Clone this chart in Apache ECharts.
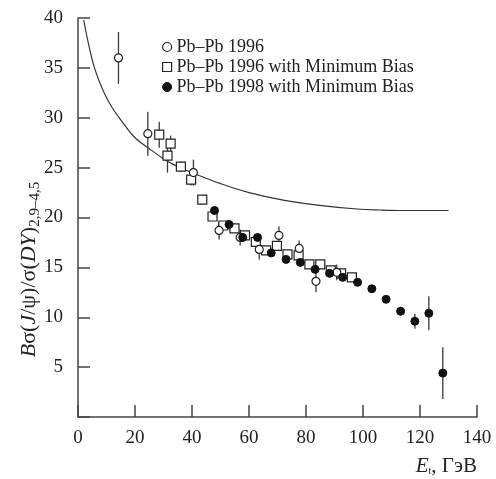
<!DOCTYPE html>
<html>
<head>
<meta charset="utf-8">
<script src="https://cdn.jsdelivr.net/npm/echarts@6/dist/echarts.min.js"></script>
<style>html,body{margin:0;padding:0;background:#fff;}#c{width:496px;height:479px;}</style>
</head>
<body>
<div id="c"></div>
<script>
// Pb-Pb 1996 (open circles)
var open96X   = [14.2, 24.5, 40.5, 49.5, 56.9, 63.6, 70.5, 77.6, 83.5, 90.8];
var open96Y   = [36.0, 28.4, 24.5, 18.7, 18.0, 16.8, 18.2, 16.9, 13.6, 14.5];
var open96Err = [2.6, 2.2, 1.3, 0.9, 0.8, 1.0, 0.9, 0.8, 1.1, 0.8];
// Pb-Pb 1996 with Minimum Bias (open squares)
var sq96X   = [28.5, 31.4, 32.5, 36.1, 39.7, 43.6, 47.2, 51.0, 54.9, 58.6, 62.4, 66.0, 69.8, 73.5, 77.4, 81.2, 85.0, 88.7, 92.3, 96.1];
var sq96Y   = [28.3, 26.2, 27.4, 25.1, 23.8, 21.8, 20.1, 19.2, 18.9, 18.2, 17.55, 16.7, 17.15, 16.3, 16.2, 15.3, 15.3, 14.7, 14.4, 14.0];
var sq96Err = [1.3, 1.7, 0.8, 0.5, 0.6, 0.4, 0.4, 0.3, 0.3, 0.3, 0.3, 0.3, 0.3, 0.3, 0.3, 0.3, 0.3, 0.3, 0.3, 0.3];
// Pb-Pb 1998 with Minimum Bias (filled circles)
var f98X   = [47.9, 53.0, 57.8, 63.0, 67.8, 73.0, 78.0, 83.2, 88.3, 92.9, 98.1, 103.1, 108.1, 113.2, 118.2, 123.1, 128.0];
var f98Y   = [20.7, 19.3, 18.0, 18.0, 16.45, 15.8, 15.5, 14.8, 14.4, 14.0, 13.5, 12.86, 11.8, 10.6, 9.6, 10.4, 4.4];
var f98Err = [0.4, 0.3, 0.3, 0.3, 0.3, 0.3, 0.3, 0.3, 0.3, 0.3, 0.3, 0.3, 0.3, 0.4, 0.75, 1.7, 2.6];
// Normal nuclear absorption curve
var curveX = [2, 4, 6, 9, 12, 16, 20, 25, 30, 35, 40, 50, 60, 72, 84, 98, 106, 115, 130];
var curveY = [39.8, 37.0, 34.8, 32.6, 31.0, 29.4, 28.0, 26.9, 25.9, 25.1, 24.5, 23.4, 22.5, 21.75, 21.25, 20.85, 20.75, 20.7, 20.7];
// Axis ticks
var xTicks = [0, 20, 40, 60, 80, 100, 120, 140];
var yTicks = [5, 10, 15, 20, 25, 30, 35, 40];

var names = ['Pb\u2013Pb 1996', 'Pb\u2013Pb 1996 with Minimum Bias', 'Pb\u2013Pb 1998 with Minimum Bias'];

function pts(xs, ys) { return xs.map(function (x, i) { return [x, ys[i]]; }); }
function errs(xs, ys, es) { return xs.map(function (x, i) { return [x, ys[i] - es[i], ys[i] + es[i]]; }); }

function errSeries(data) {
  return {
    type: 'custom', z: 1, silent: true,
    renderItem: function (params, api) {
      var p1 = api.coord([api.value(0), api.value(1)]);
      var p2 = api.coord([api.value(0), api.value(2)]);
      return { type: 'line', shape: { x1: p1[0], y1: p1[1], x2: p2[0], y2: p2[1] },
               style: { stroke: '#3a3a3a', lineWidth: 1.3 } };
    },
    encode: { x: 0, y: [1, 2] },
    data: data
  };
}

var font = 'Liberation Serif';
var chart = echarts.init(document.getElementById('c'));
chart.setOption({
  animation: false,
  backgroundColor: '#fff',
  grid: { left: 78, right: 19, top: 18, bottom: 62 },
  legend: {
    orient: 'vertical', left: 157, top: 33, itemGap: 2, itemWidth: 9, itemHeight: 9,
    textStyle: { fontFamily: font, fontSize: 18, color: '#222' },
    data: [
      { name: names[0], icon: 'circle', itemStyle: { color: '#fff', borderColor: '#222', borderWidth: 1.2 } },
      { name: names[1], icon: 'rect', itemStyle: { color: '#fff', borderColor: '#222', borderWidth: 1.2 } },
      { name: names[2], icon: 'circle', itemStyle: { color: '#111', borderColor: '#111', borderWidth: 1 } }
    ]
  },
  xAxis: {
    type: 'value', min: xTicks[0], max: xTicks[xTicks.length - 1], interval: 20,
    axisLine: { lineStyle: { color: '#444', width: 1.5 } },
    axisTick: { inside: true, length: 12, lineStyle: { color: '#444', width: 1.5 } },
    splitLine: { show: false },
    axisLabel: { fontFamily: font, fontSize: 19, color: '#222', margin: 12 },
    name: '{i|E}{s|t}{n|, \u0413\u044d\u0412}',
    nameLocation: 'end', nameGap: 0,
    nameTextStyle: {
      align: 'right', verticalAlign: 'middle', padding: [98, 0, 0, 0],
      rich: {
        i: { fontFamily: font, fontSize: 21, fontStyle: 'italic', color: '#222' },
        s: { fontFamily: font, fontSize: 10, color: '#222', verticalAlign: 'bottom', padding: [9, 0, 0, 0] },
        n: { fontFamily: font, fontSize: 21, color: '#222' }
      }
    }
  },
  yAxis: {
    type: 'value', min: 0, max: yTicks[yTicks.length - 1], interval: 5,
    axisLine: { lineStyle: { color: '#444', width: 1.5 } },
    axisTick: { inside: true, length: 12, lineStyle: { color: '#444', width: 1.5 } },
    splitLine: { show: false },
    axisLabel: { fontFamily: font, fontSize: 19, color: '#222', margin: 15,
      formatter: function (v) { return yTicks.indexOf(v) >= 0 ? String(v) : ''; } },
    name: '{i|B}{n|\u03c3(}{i|J}{n|/\u03c8)/\u03c3(}{i|DY}{n|)}{s|2,9\u20134,5}',
    nameLocation: 'middle', nameGap: 35, nameRotate: 90, nameMoveOverlap: false,
    nameTextStyle: {
      padding: [0, 104, 0, 0],
      rich: {
        i: { fontFamily: font, fontSize: 22, fontStyle: 'italic', color: '#222' },
        n: { fontFamily: font, fontSize: 22, color: '#222' },
        s: { fontFamily: font, fontSize: 15, color: '#222', verticalAlign: 'bottom', padding: [12, 0, 0, 0] }
      }
    }
  },
  series: [
    { type: 'line', name: 'curve', data: pts(curveX, curveY), smooth: 0.4, showSymbol: false, symbol: 'none',
      lineStyle: { color: '#333', width: 1.2 }, z: 1, silent: true },
    errSeries(errs(open96X, open96Y, open96Err)),
    errSeries(errs(sq96X, sq96Y, sq96Err)),
    errSeries(errs(f98X, f98Y, f98Err)),
    { type: 'scatter', name: names[1], data: pts(sq96X, sq96Y), symbol: 'rect', symbolSize: 9, z: 3,
      itemStyle: { color: '#fff', borderColor: '#222', borderWidth: 1.2, opacity: 1 } },
    { type: 'scatter', name: names[0], data: pts(open96X, open96Y), symbol: 'circle', symbolSize: 8, z: 4,
      itemStyle: { color: '#fff', borderColor: '#222', borderWidth: 1.2, opacity: 1 } },
    { type: 'scatter', name: names[2], data: pts(f98X, f98Y), symbol: 'circle', symbolSize: 8, z: 5,
      itemStyle: { color: '#111', borderColor: '#111', borderWidth: 1, opacity: 1 } }
  ]
});
</script>
</body>
</html>
